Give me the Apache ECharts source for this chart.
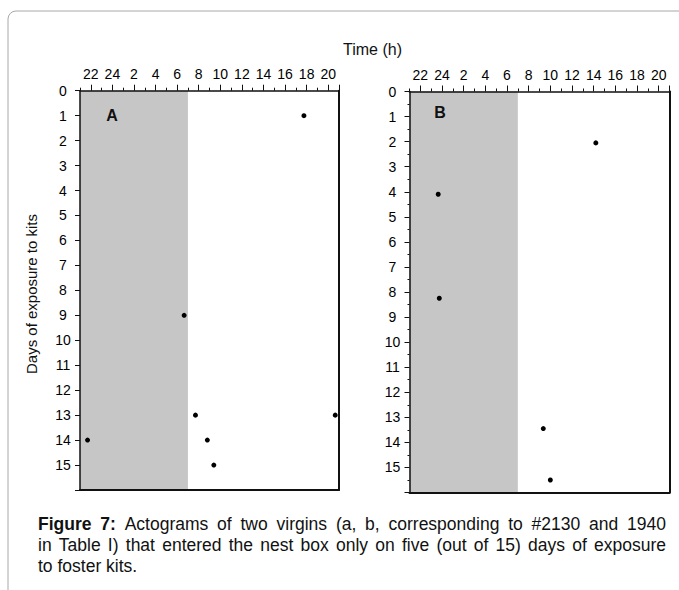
<!DOCTYPE html>
<html>
<head>
<meta charset="utf-8">
<script src="https://cdn.jsdelivr.net/npm/echarts@6/dist/echarts.min.js"></script>
<style>
html,body{margin:0;padding:0;background:#fff;}
#chart{width:679px;height:590px;}
</style>
</head>
<body>
<div id="chart"></div>
<script>
// ---- data ----
const hourTickLabels = [22, 24, 2, 4, 6, 8, 10, 12, 14, 16, 18, 20];
const dayTickLabels = [0, 1, 2, 3, 4, 5, 6, 7, 8, 9, 10, 11, 12, 13, 14, 15];
const darkStartHour = 21;
const darkEndHour = 7;
const panelATime = [17.75, 6.65, 7.7, 20.65, 21.7, 8.8, 9.4];
const panelADay = [1, 9, 13, 13, 14, 14, 15];
const panelBTime = [14.2, 23.65, 23.75, 9.35, 10.0];
const panelBDay = [2.05, 4.1, 8.25, 13.45, 15.5];
const panelLabels = ['A', 'B'];
const xTitle = 'Time (h)';
const yTitle = 'Days of exposure to kits';
const captionLines = [
  'Figure 7: Actograms of two virgins (a, b, corresponding to #2130 and 1940',
  'in Table I) that entered the nest box only on five (out of 15) days of exposure',
  'to foster kits.'
];

// ---- helpers ----
const FONT = 'Liberation Sans, Arial, sans-serif';
const X_MIN = 21, X_MAX = 45;
const toAxis = h => (h < X_MIN ? h + 24 : h);
const majorVals = hourTickLabels.map(toAxis);
const minorVals = [];
for (let v = X_MIN; v <= X_MAX; v += 2) minorVals.push(v);
const majorTickVals = majorVals.concat([X_MAX]);
const dayTickVals = dayTickLabels.concat([16]);

const chart = echarts.init(document.getElementById('chart'), null, {renderer: 'svg'});

const grids = [
  {left: 80, top: 90.7, width: 259, height: 399.3},
  {left: 409.5, top: 91.5, width: 260, height: 401}
];

const xAxes = [], yAxes = [], series = [];
grids.forEach((g, i) => {
  xAxes.push({
    type: 'value', gridIndex: i, position: 'top', min: X_MIN, max: X_MAX, z: 5,
    splitLine: {show: false},
    axisLine: {show: true, lineStyle: {color: '#111', width: 1.5}},
    axisTick: {show: true, inside: false, length: 6, customValues: majorTickVals, lineStyle: {color: '#111', width: 1}},
    axisLabel: {show: true, customValues: majorVals, margin: 10, fontSize: 14, fontFamily: FONT, color: '#000',
      formatter: v => String(v > 24 ? v - 24 : v)}
  });
  xAxes.push({
    type: 'value', gridIndex: i, position: 'top', min: X_MIN, max: X_MAX, z: 5,
    splitLine: {show: false},
    axisLine: {show: false},
    axisTick: {show: true, inside: false, length: 3, customValues: minorVals, lineStyle: {color: '#111', width: 1}},
    axisLabel: {show: false}
  });
  xAxes.push({
    type: 'value', gridIndex: i, position: 'bottom', min: X_MIN, max: X_MAX, z: 5,
    splitLine: {show: false},
    axisLine: {show: true, lineStyle: {color: '#111', width: 2}},
    axisTick: {show: false}, axisLabel: {show: false}
  });
  yAxes.push({
    type: 'value', gridIndex: i, position: 'left', inverse: true, min: 0, max: 16, interval: 1, z: 5,
    splitLine: {show: false},
    axisLine: {show: true, lineStyle: {color: '#111', width: 1.5}},
    axisTick: {show: true, length: 5, customValues: dayTickVals, lineStyle: {color: '#111', width: 1}},
    minorTick: {show: i === 1, splitNumber: 2, length: 2, lineStyle: {color: '#111', width: 1}},
    axisLabel: {show: true, customValues: dayTickLabels, align: 'center', margin: 17,
      fontSize: 14, fontFamily: FONT, color: '#000'}
  });
  yAxes.push({
    type: 'value', gridIndex: i, position: 'right', inverse: true, min: 0, max: 16, z: 5,
    splitLine: {show: false},
    axisLine: {show: true, lineStyle: {color: '#111', width: 2}},
    axisTick: {show: false}, axisLabel: {show: false}
  });
  const times = i === 0 ? panelATime : panelBTime;
  const days = i === 0 ? panelADay : panelBDay;
  series.push({
    type: 'scatter', xAxisIndex: i * 3, yAxisIndex: i * 2,
    symbol: 'circle', symbolSize: 5,
    itemStyle: {color: '#000', opacity: 1},
    data: times.map((t, k) => [toAxis(t), days[k]]),
    markArea: {
      silent: true,
      itemStyle: {color: '#c6c6c6', opacity: 1},
      data: [[{xAxis: toAxis(darkStartHour), yAxis: 0}, {xAxis: toAxis(darkEndHour), yAxis: 16}]]
    },
    z: 2
  });
});

// caption, justified word by word
const cvs = document.createElement('canvas');
const ctx = cvs.getContext('2d');
const capSize = 17.5;
const capLeft = 38, capRight = 666;
const capY = [525.5, 546.5, 567];
const captionGraphics = [];
captionLines.forEach((line, li) => {
  const words = line.split(' ');
  const items = words.map((w, wi) => {
    const bold = li === 0 && wi < 2;
    const font = (bold ? 'bold ' : '') + capSize + 'px ' + FONT;
    ctx.font = font;
    return {w, bold, width: ctx.measureText(w).width};
  });
  ctx.font = capSize + 'px ' + FONT;
  const spaceW = ctx.measureText(' ').width;
  const total = items.reduce((s, it) => s + it.width, 0);
  let gap = spaceW;
  if (li < captionLines.length - 1) gap = Math.max(spaceW, (capRight - capLeft - total) / (items.length - 1));
  let x = capLeft;
  items.forEach(it => {
    captionGraphics.push({
      type: 'text', left: x, top: capY[li] - capSize * 0.6,
      style: {text: it.w, font: (it.bold ? 'bold ' : '') + capSize + 'px ' + FONT, fill: '#111'}
    });
    x += it.width + gap;
  });
});

const option = {
  animation: false,
  backgroundColor: '#fff',
  grid: grids.map(g => Object.assign({show: false, containLabel: false}, g)),
  xAxis: xAxes,
  yAxis: yAxes,
  series: series,
  graphic: [
    {type: 'rect', shape: {x: 8, y: 11, width: 720, height: 640, r: 8},
      style: {fill: 'none', stroke: '#a8a8a8', lineWidth: 1}, silent: true},
    {type: 'text', x: 372.5, y: 49, style: {text: xTitle, font: '16px ' + FONT, fill: '#111', textAlign: 'center', textVerticalAlign: 'middle'}},
    {type: 'text', x: 31, y: 294, rotation: Math.PI / 2, style: {text: yTitle, font: '15px ' + FONT, fill: '#111', textAlign: 'center', textVerticalAlign: 'middle'}},
    {type: 'text', x: 112, y: 115, z: 10, style: {text: panelLabels[0], font: 'bold 16px ' + FONT, fill: '#111', textAlign: 'center', textVerticalAlign: 'middle'}},
    {type: 'text', x: 440, y: 112, z: 10, style: {text: panelLabels[1], font: 'bold 16px ' + FONT, fill: '#111', textAlign: 'center', textVerticalAlign: 'middle'}}
  ].concat(captionGraphics)
};
chart.setOption(option);
</script>
</body>
</html>
